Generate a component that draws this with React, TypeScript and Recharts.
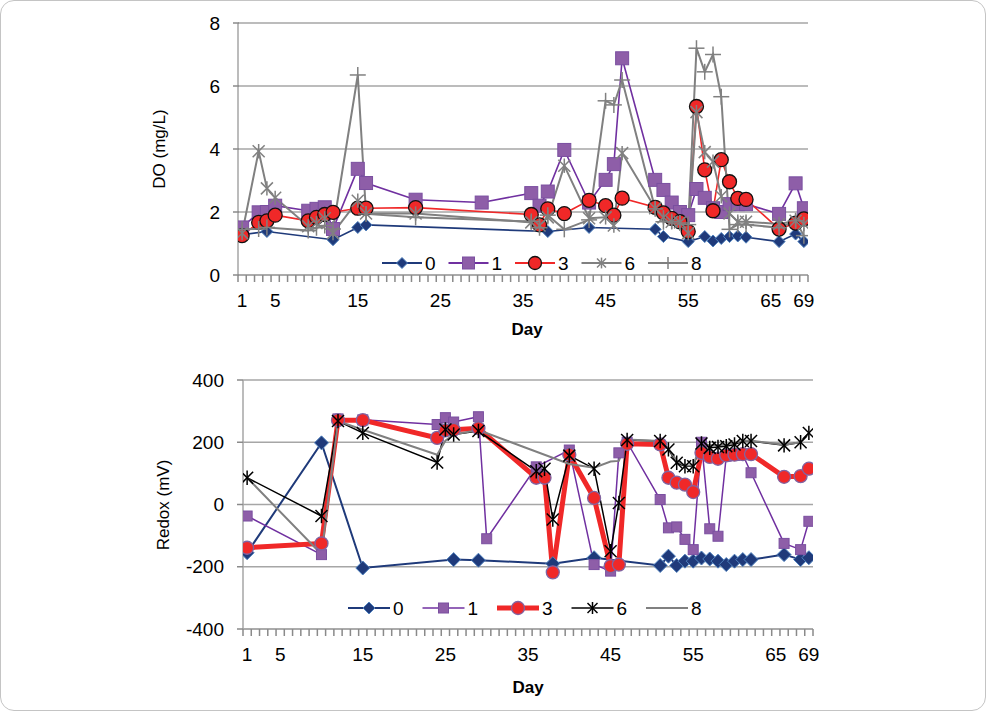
import React from 'react';
import { LineChart, Line, XAxis, YAxis, CartesianGrid, Legend } from 'recharts';

// ---------- data ----------
const DO_DAYS = [1, 3, 4, 5, 9, 10, 11, 12, 15, 16, 22, 30, 36, 37, 38, 40, 43, 45, 46, 47, 51, 52, 53, 54, 55, 56, 57, 58, 59, 60, 61, 62, 66, 68, 69];
const DO_S0 = [1.28, null, 1.38, null, null, null, null, 1.12, 1.51, 1.59, null, null, null, null, 1.38, null, 1.51, null, null, null, 1.45, 1.22, null, null, 1.06, null, 1.22, 1.08, 1.16, 1.22, 1.24, 1.2, 1.06, 1.3, 1.06];
const DO_S1 = [1.51, 1.99, 2.0, 2.2, 2.04, 2.1, 2.15, 1.46, 3.37, 2.92, 2.39, 2.3, 2.6, 2.2, 2.65, 3.97, 2.3, 3.02, 3.52, 6.88, 3.02, 2.7, 2.3, 2.0, 1.9, 2.73, 2.45, 2.12, 2.0, 2.25, 2.25, 2.25, 1.94, 2.91, 2.12];
const DO_S3 = [1.25, 1.67, 1.72, 1.9, 1.72, 1.83, 1.92, 1.99, 2.12, 2.12, 2.14, null, 1.92, 1.59, 2.1, 1.95, 2.37, 2.2, 1.9, 2.44, 2.15, 1.97, 1.8, 1.69, 1.38, 5.35, 3.34, 2.04, 3.66, 2.96, 2.43, 2.4, 1.46, 1.65, 1.78];
const DO_S6 = [1.33, 3.93, 2.75, 2.45, 1.55, 1.65, 1.8, 1.33, 2.36, 1.95, 1.95, null, 1.67, 1.57, 1.83, 3.47, 1.8, 1.83, 1.57, 3.87, 2.12, 1.83, 1.69, 1.67, 1.33, 5.17, 3.9, 3.6, 2.5, 1.95, 1.69, 1.69, 1.62, 1.72, 1.62];
const DO_S8 = [1.45, 1.46, 1.51, null, 1.41, 1.5, 1.57, 1.46, 6.35, 1.94, 1.83, null, 1.7, 1.5, 1.9, 1.45, 1.75, 5.53, 5.4, 6.19, 2.1, 1.69, 1.7, 1.65, 1.6, 7.2, 6.45, 7.0, 5.66, 1.45, 1.6, 1.6, 1.5, 1.72, 1.25];

const REDOX_DAYS = [1, 10, 12, 15, 24, 25, 26, 29, 30, 36, 37, 38, 40, 43, 45, 46, 47, 51, 52, 53, 54, 55, 56, 57, 58, 59, 60, 61, 62, 66, 68, 69];
const REDOX_S0 = [-155, 198, null, -204, null, null, -177, -179, null, null, null, -190, null, -171, null, null, null, -196, -166, -196, -182, -182, -172, -175, -182, -193, -182, -177, -177, -161, -177, -171];
const REDOX_S1 = [-37, -161, 275, 272, 257, 279, 265, 282, -110, 121, null, null, 175, -193, -214, 166, 200, 16, -75, -72, -112, -145, 200, -78, -102, 155, 158, 160, 102, -125, -145, -54];
const REDOX_S3 = [-139, -125, 271, 271, 214, 238, 240, 245, null, 86, 86, -218, 160, 21, -198, -193, 195, 193, 86, 70, 64, 40, 166, 153, 147, 158, 160, 162, 162, 89, 91, 115];
const REDOX_S6 = [86, -37, 268, 230, 135, 241, 225, 236, null, 107, 115, -48, 157, 115, -150, 5, 207, 204, 177, 134, 123, 123, 196, 182, 185, 187, 193, 204, 204, 190, 200, 230];
const REDOX_S8 = [86, -160, 268, 240, 160, 205, 225, 239, null, null, null, null, 130, 118, 138, 140, 209, 204, 180, 140, 125, 125, 200, 190, 190, 192, 198, 205, 205, 192, 200, 228];

const SERIES_NAMES = ['0', '1', '3', '6', '8'];
const DAY_LABELS = [1, 5, 15, 25, 35, 45, 55, 65, 69];
const DO_TICKS = [0, 2, 4, 6, 8];
const REDOX_TICKS = [-400, -200, 0, 200, 400];
const DAY_BOUNDARIES = Array.from({ length: 70 }, (_, i) => i + 0.5);

const doData = DO_DAYS.map((day, i) => ({ day, s0: DO_S0[i], s1: DO_S1[i], s3: DO_S3[i], s6: DO_S6[i], s8: DO_S8[i] }));
const redoxData = REDOX_DAYS.map((day, i) => ({ day, s0: REDOX_S0[i], s1: REDOX_S1[i], s3: REDOX_S3[i], s6: REDOX_S6[i], s8: REDOX_S8[i] }));

// ---------- style ----------
const FONT = '"Liberation Sans", Arial, sans-serif';
const GRID = '#A6A6A6';
const NAVY = '#1F3A7A';
const NAVY_EDGE = '#4F81BD';
const PURPLE_LINE = '#7030A0';
const PURPLE_FILL = '#8E5EA8';
const PURPLE_EDGE = '#7A4FA0';
const RED = '#F02828';
const GRAY = '#808080';
const PLOT_W = 570;
const STEP = PLOT_W / 69;

// ---------- marker shapes ----------
const diamondShape = (cx: number, cy: number, r: number, k?: any) => (
  <polygon key={k} points={`${cx},${cy - r} ${cx + r},${cy} ${cx},${cy + r} ${cx - r},${cy}`} fill={NAVY} stroke={NAVY_EDGE} strokeWidth={1} />
);
const squareShape = (cx: number, cy: number, s: number, edge: string, k?: any) => (
  <rect key={k} x={cx - s / 2} y={cy - s / 2} width={s} height={s} fill={PURPLE_FILL} stroke={edge} strokeWidth={1} />
);
const circleShape = (cx: number, cy: number, r: number, edge: string, k?: any) => (
  <circle key={k} cx={cx} cy={cy} r={r} fill={RED} stroke={edge} strokeWidth={1.3} />
);
const asteriskShape = (cx: number, cy: number, r: number, color: string, w: number, k?: any) => (
  <g key={k} stroke={color} strokeWidth={w}>
    <line x1={cx - r} y1={cy - r} x2={cx + r} y2={cy + r} />
    <line x1={cx - r} y1={cy + r} x2={cx + r} y2={cy - r} />
    <line x1={cx} y1={cy - r * 1.2} x2={cx} y2={cy + r * 1.2} />
  </g>
);
const plusShape = (cx: number, cy: number, r: number, k?: any) => (
  <g key={k} stroke={GRAY} strokeWidth={1.5}>
    <line x1={cx - r} y1={cy} x2={cx + r} y2={cy} />
    <line x1={cx} y1={cy - r} x2={cx} y2={cy + r} />
  </g>
);

const mkDot = (fn: (cx: number, cy: number, k: any) => React.ReactElement) => (p: any) => {
  const { cx, cy, value, index } = p;
  const k = p.key ?? `d${index}`;
  if (cx == null || cy == null || value == null || Number.isNaN(cy)) return <g key={k} />;
  return fn(cx, cy, k);
};

// ---------- axis ticks: a short mark at every day boundary, a label at chosen days ----------
const DayTick = (props: any) => {
  const { x, y, payload } = props;
  const lab = payload.value + 0.5;
  return (
    <g>
      <rect x={x - 0.75} y={y - 19} width={1.5} height={7} fill="#8A8A8A" />
      {DAY_LABELS.includes(lab) && (
        <text x={x + STEP / 2} y={y + 6} textAnchor="middle" dominantBaseline="central" fontSize={19} fill="#000" fontFamily={FONT}>
          {lab}
        </text>
      )}
    </g>
  );
};

// ---------- legends ----------
const TopLegend = () => {
  const pitch = 66.5;
  const len = 40;
  const cy = 12;
  const markers = [
    (x: number) => diamondShape(x, cy, 5.5),
    (x: number) => squareShape(x, cy, 12, PURPLE_EDGE),
    (x: number) => circleShape(x, cy, 6.5, '#111'),
    (x: number) => asteriskShape(x, cy, 4.5, GRAY, 1.5),
    (x: number) => plusShape(x, cy, 6),
  ];
  const colors = [NAVY, PURPLE_LINE, RED, GRAY, GRAY];
  return (
    <svg width={340} height={24} style={{ display: 'block' }}>
      {SERIES_NAMES.map((n, i) => {
        const x0 = i * pitch;
        return (
          <g key={n}>
            <line x1={x0} x2={x0 + len} y1={cy} y2={cy} stroke={colors[i]} strokeWidth={1.8} />
            {markers[i](x0 + len / 2)}
            <text x={x0 + len + 3} y={cy} dominantBaseline="central" fontSize={19} fontFamily={FONT} fill="#000">{n}</text>
          </g>
        );
      })}
    </svg>
  );
};

const BottomLegend = () => {
  const pitch = 74.5;
  const len = 42;
  const cy = 12;
  const markers = [
    (x: number) => diamondShape(x, cy, 6),
    (x: number) => squareShape(x, cy, 10, PURPLE_EDGE),
    (x: number) => circleShape(x, cy, 6.5, '#8064A2'),
    (x: number) => asteriskShape(x, cy, 5, '#000', 1.5),
    () => null,
  ];
  const colors = [NAVY, PURPLE_LINE, RED, '#000', GRAY];
  const widths = [2, 1.6, 5, 1.6, 2];
  return (
    <svg width={380} height={24} style={{ display: 'block' }}>
      {SERIES_NAMES.map((n, i) => {
        const x0 = i * pitch;
        return (
          <g key={n}>
            <line x1={x0} x2={x0 + len} y1={cy} y2={cy} stroke={colors[i]} strokeWidth={widths[i]} />
            {markers[i](x0 + len / 2)}
            <text x={x0 + len + 3} y={cy} dominantBaseline="central" fontSize={19} fontFamily={FONT} fill="#000">{n}</text>
          </g>
        );
      })}
    </svg>
  );
};

// y-axis tick: label plus a short mark to the left of the axis
const ValueTick = (props: any) => {
  const { x, y, payload } = props;
  return (
    <g>
      <rect x={x + 13} y={y - 0.75} width={6} height={1.5} fill="#8A8A8A" />
      <text x={x} y={y} textAnchor="end" dominantBaseline="central" fontSize={19} fill="#000" fontFamily={FONT}>
        {payload.value}
      </text>
    </g>
  );
};

export default function App() {
  return (
    <div style={{ position: 'absolute', left: 0, top: 0, width: 987, height: 712, background: '#fff', fontFamily: FONT, overflow: 'hidden' }}>
      <div style={{ position: 'absolute', left: 0, top: 0, width: 986, height: 711, border: '1px solid #C4C4C4', borderRadius: 14, boxSizing: 'border-box' }} />

      {/* DO chart */}
      <div style={{ position: 'absolute', left: 0, top: 0 }}>
        <LineChart width={987} height={340} data={doData} margin={{ top: 23, right: 179, bottom: 35, left: 178 }}>
          <CartesianGrid horizontal vertical={false} stroke={GRID} strokeWidth={1.5} />
          <XAxis
            dataKey="day"
            type="number"
            domain={[0.5, 69.5]}
            ticks={DAY_BOUNDARIES}
            interval={0}
            tick={<DayTick />}
            tickLine={false}
            tickSize={6}
            tickMargin={13}
            height={30}
            axisLine={{ stroke: GRID, strokeWidth: 1.5 }}
            allowDataOverflow
          />
          <YAxis
            type="number"
            domain={[0, 8]}
            ticks={DO_TICKS}
            width={60}
            tick={<ValueTick />}
            tickSize={5}
            tickMargin={13}
            tickLine={false}
            axisLine={{ stroke: GRID, strokeWidth: 1.5 }}
          />
          <Legend verticalAlign="middle" align="center" content={() => <TopLegend />} wrapperStyle={{ left: 382, top: 251, width: 340, height: 24 }} />
          <Line dataKey="s0" name="0" stroke={NAVY} strokeWidth={1.6} connectNulls isAnimationActive={false} dot={mkDot((x, y, k) => diamondShape(x, y, 6, k))} activeDot={false} />
          <Line dataKey="s1" name="1" stroke={PURPLE_LINE} strokeWidth={1.6} connectNulls isAnimationActive={false} dot={mkDot((x, y, k) => squareShape(x, y, 13, PURPLE_EDGE, k))} activeDot={false} />
          <Line dataKey="s3" name="3" stroke={RED} strokeWidth={1.6} connectNulls isAnimationActive={false} dot={mkDot((x, y, k) => circleShape(x, y, 7, '#111', k))} activeDot={false} />
          <Line dataKey="s6" name="6" stroke={GRAY} strokeWidth={2} connectNulls isAnimationActive={false} dot={mkDot((x, y, k) => asteriskShape(x, y, 6, GRAY, 1.5, k))} activeDot={false} />
          <Line dataKey="s8" name="8" stroke={GRAY} strokeWidth={2} connectNulls isAnimationActive={false} dot={mkDot((x, y, k) => plusShape(x, y, 8, k))} activeDot={false} />
        </LineChart>
      </div>

      {/* Redox chart */}
      <div style={{ position: 'absolute', left: 0, top: 350 }}>
        <LineChart width={987} height={340} data={redoxData} margin={{ top: 30, right: 174, bottom: 31, left: 183 }}>
          <CartesianGrid horizontal vertical={false} stroke={GRID} strokeWidth={1.5} />
          <XAxis
            dataKey="day"
            type="number"
            domain={[0.5, 69.5]}
            ticks={DAY_BOUNDARIES}
            interval={0}
            tick={<DayTick />}
            tickLine={false}
            tickSize={6}
            tickMargin={13}
            height={30}
            axisLine={{ stroke: GRID, strokeWidth: 1.5 }}
            allowDataOverflow
          />
          <YAxis
            type="number"
            domain={[-400, 400]}
            ticks={REDOX_TICKS}
            width={60}
            tick={<ValueTick />}
            tickSize={5}
            tickMargin={14}
            tickLine={false}
            axisLine={{ stroke: GRID, strokeWidth: 1.5 }}
          />
          <Legend verticalAlign="middle" align="center" content={() => <BottomLegend />} wrapperStyle={{ left: 348, top: 246, width: 380, height: 24 }} />
          <Line dataKey="s0" name="0" stroke={NAVY} strokeWidth={2} connectNulls isAnimationActive={false} dot={mkDot((x, y, k) => diamondShape(x, y, 7, k))} activeDot={false} />
          <Line dataKey="s1" name="1" stroke={PURPLE_LINE} strokeWidth={1.5} connectNulls isAnimationActive={false} dot={mkDot((x, y, k) => squareShape(x, y, 10, PURPLE_EDGE, k))} activeDot={false} />
          <Line dataKey="s3" name="3" stroke={RED} strokeWidth={5} connectNulls isAnimationActive={false} dot={mkDot((x, y, k) => circleShape(x, y, 6.5, '#8064A2', k))} activeDot={false} />
          <Line dataKey="s6" name="6" stroke="#000" strokeWidth={1.5} connectNulls isAnimationActive={false} dot={mkDot((x, y, k) => asteriskShape(x, y, 6, '#000', 1.5, k))} activeDot={false} />
          <Line dataKey="s8" name="8" stroke={GRAY} strokeWidth={2} connectNulls isAnimationActive={false} dot={false} activeDot={false} />
        </LineChart>
      </div>

      {/* axis titles */}
      <div style={{ position: 'absolute', left: 160, top: 149, transform: 'translate(-50%, -50%) rotate(-90deg)', fontSize: 17, whiteSpace: 'nowrap', color: '#000' }}>DO (mg/L)</div>
      <div style={{ position: 'absolute', left: 527, top: 330, transform: 'translate(-50%, -50%)', fontSize: 17, fontWeight: 'bold', color: '#000' }}>Day</div>
      <div style={{ position: 'absolute', left: 164, top: 505, transform: 'translate(-50%, -50%) rotate(-90deg)', fontSize: 17, whiteSpace: 'nowrap', color: '#000' }}>Redox (mV)</div>
      <div style={{ position: 'absolute', left: 528, top: 688, transform: 'translate(-50%, -50%)', fontSize: 17, fontWeight: 'bold', color: '#000' }}>Day</div>
    </div>
  );
}
